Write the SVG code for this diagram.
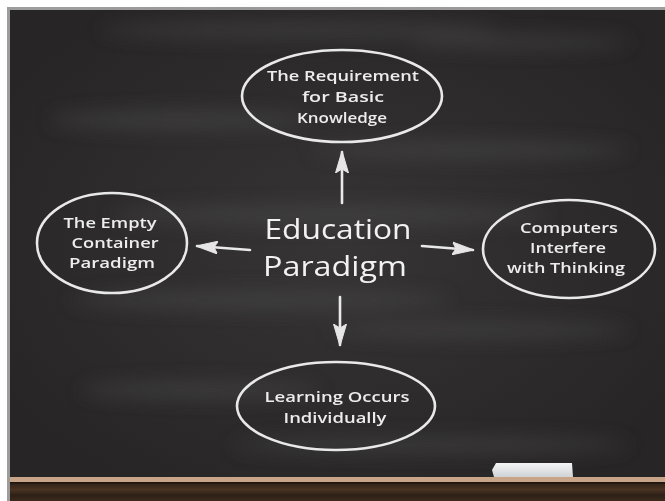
<svg xmlns="http://www.w3.org/2000/svg" width="665" height="501" viewBox="0 0 665 501">
  <style>
    .chalk { fill: none; stroke: #e9e9e9; stroke-width: 2.6; stroke-linecap: round; }
    .node-text { font-family: "Open Sans", "Noto Sans", sans-serif; font-size: 15px; font-weight: 600; fill: #ededed; text-anchor: middle; }
    .title-text { font-family: "Open Sans", "Noto Sans", sans-serif; font-size: 28px; font-weight: 500; fill: #f2f2f2; text-anchor: middle; }
    .streak { fill: #4a4849; }
  </style>
  <defs>
    <filter id="soft" x="-10%" y="-10%" width="120%" height="120%">
      <feGaussianBlur stdDeviation="0.45"/>
    </filter>
    <filter id="haze" x="-30%" y="-100%" width="160%" height="300%">
      <feGaussianBlur stdDeviation="9"/>
    </filter>
    <radialGradient id="boardGlow" cx="0.5" cy="0.5" r="0.6">
      <stop offset="0" stop-color="#363435"/>
      <stop offset="1" stop-color="#272526"/>
    </radialGradient>
    <linearGradient id="wood" x1="0" y1="0" x2="0" y2="1">
      <stop offset="0" stop-color="#2c1f16"/>
      <stop offset="0.4" stop-color="#4a3322"/>
      <stop offset="0.7" stop-color="#2d2017"/>
      <stop offset="1" stop-color="#3d2a1c"/>
    </linearGradient>
    <linearGradient id="eraser" x1="0" y1="0" x2="0" y2="1">
      <stop offset="0" stop-color="#f4f4f4"/>
      <stop offset="1" stop-color="#cfd3d6"/>
    </linearGradient>
    <marker id="chalkHead" viewBox="0 -7 22 14" refX="21" refY="0" markerWidth="22" markerHeight="14" markerUnits="userSpaceOnUse" orient="auto">
      <path d="M22,0 L0,-6.5 L4,0 L0,6.5 Z" fill="#e6e6e6" stroke="#e6e6e6" stroke-width="1" stroke-linejoin="round"/>
    </marker>
  </defs>

  <!-- page and frame -->
  <rect x="0" y="0" width="665" height="501" fill="#ffffff"/>
  <rect x="7" y="7" width="658" height="494" fill="#9c9c9c"/>

  <!-- blackboard -->
  <rect x="10" y="10" width="655" height="468" fill="url(#boardGlow)"/>
  <g filter="url(#haze)" opacity="0.55">
    <ellipse class="streak" cx="300" cy="30" rx="200" ry="8"/>
    <ellipse class="streak" cx="520" cy="42" rx="110" ry="7"/>
    <ellipse class="streak" cx="180" cy="120" rx="130" ry="10"/>
    <ellipse class="streak" cx="470" cy="150" rx="160" ry="9"/>
    <ellipse class="streak" cx="330" cy="215" rx="220" ry="10"/>
    <ellipse class="streak" cx="260" cy="300" rx="190" ry="10"/>
    <ellipse class="streak" cx="480" cy="330" rx="150" ry="8"/>
    <ellipse class="streak" cx="200" cy="390" rx="120" ry="9"/>
    <ellipse class="streak" cx="430" cy="445" rx="200" ry="8"/>
  </g>

  <!-- chalk ledge -->
  <rect x="10" y="477" width="655" height="5" fill="#c8a488"/>
  <rect x="10" y="482" width="655" height="19" fill="url(#wood)"/>
  <rect x="10" y="482" width="655" height="1.5" fill="#1e150f"/>
  <path d="M496,463 L572,463 L573,477 L494,477 L492,470 Z" fill="url(#eraser)"/>

  <!-- connectors -->
  <g id="connectors" class="chalk" filter="url(#soft)">
    <line x1="342" y1="203" x2="342" y2="152" marker-end="url(#chalkHead)"/>
    <line x1="250" y1="250" x2="197" y2="246" marker-end="url(#chalkHead)"/>
    <line x1="422" y1="246" x2="473" y2="250" marker-end="url(#chalkHead)"/>
    <line x1="340" y1="297" x2="340" y2="345" marker-end="url(#chalkHead)"/>
  </g>

  <!-- central topic -->
  <g id="node-center" filter="url(#soft)">
    <text class="title-text" x="338" y="239" textLength="147" lengthAdjust="spacingAndGlyphs">Education</text>
    <text class="title-text" x="335" y="276" textLength="144" lengthAdjust="spacingAndGlyphs">Paradigm</text>
  </g>

  <!-- top node -->
  <g id="node-requirement" filter="url(#soft)">
    <ellipse class="chalk" cx="342" cy="96" rx="100" ry="46"/>
    <text class="node-text" x="343" y="81" textLength="152" lengthAdjust="spacingAndGlyphs">The Requirement</text>
    <text class="node-text" x="343" y="102" textLength="82" lengthAdjust="spacingAndGlyphs">for Basic</text>
    <text class="node-text" x="342" y="123" textLength="90" lengthAdjust="spacingAndGlyphs">Knowledge</text>
  </g>

  <!-- left node -->
  <g id="node-empty-container" filter="url(#soft)">
    <ellipse class="chalk" cx="112" cy="243" rx="75" ry="50"/>
    <text class="node-text" x="110" y="228" textLength="93" lengthAdjust="spacingAndGlyphs">The Empty</text>
    <text class="node-text" x="115" y="248" textLength="87" lengthAdjust="spacingAndGlyphs">Container</text>
    <text class="node-text" x="112" y="268" textLength="86" lengthAdjust="spacingAndGlyphs">Paradigm</text>
  </g>

  <!-- right node -->
  <g id="node-computers" filter="url(#soft)">
    <ellipse class="chalk" cx="569" cy="249" rx="86" ry="49"/>
    <text class="node-text" x="569" y="233" textLength="98" lengthAdjust="spacingAndGlyphs">Computers</text>
    <text class="node-text" x="568" y="253" textLength="76" lengthAdjust="spacingAndGlyphs">Interfere</text>
    <text class="node-text" x="566" y="273" textLength="118" lengthAdjust="spacingAndGlyphs">with Thinking</text>
  </g>

  <!-- bottom node -->
  <g id="node-learning" filter="url(#soft)">
    <ellipse class="chalk" cx="336" cy="406" rx="99" ry="44"/>
    <text class="node-text" x="337" y="402" textLength="145" lengthAdjust="spacingAndGlyphs">Learning Occurs</text>
    <text class="node-text" x="335" y="423" textLength="103" lengthAdjust="spacingAndGlyphs">Individually</text>
  </g>
</svg>
